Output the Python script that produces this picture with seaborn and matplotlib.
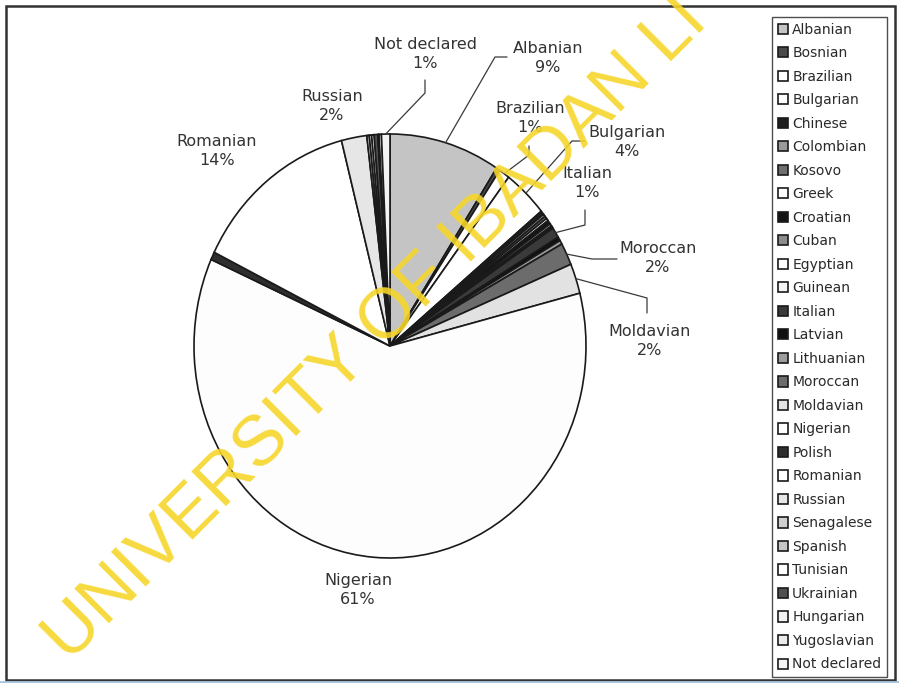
import matplotlib
matplotlib.use("Agg")
import matplotlib.pyplot as plt
import matplotlib.patches as mpatches
import seaborn as sns
import numpy as np

# Nationality shares (percent)
nationalities = [
    "Albanian", "Bosnian", "Brazilian", "Bulgarian", "Chinese", "Colombian",
    "Kosovo", "Greek", "Croatian", "Cuban", "Egyptian", "Guinean", "Italian",
    "Latvian", "Lithuanian", "Moroccan", "Moldavian", "Nigerian", "Polish",
    "Romanian", "Russian", "Senagalese", "Spanish", "Tunisian", "Ukrainian",
    "Hungarian", "Yugoslavian", "Not declared",
]
shares = [
    9.2, 0.3, 0.9, 3.7, 0.3, 0.2,
    0.2, 0.2, 0.3, 0.2, 0.1, 0.1, 0.8,
    0.3, 0.3, 1.7, 2.3, 61.0, 0.6,
    13.8, 2.1, 0.2, 0.2, 0.2, 0.3,
    0.1, 0.2, 0.7,
]
greys = [
    "#c4c4c4", "#4a4a4a", "#ffffff", "#ffffff", "#1e1e1e", "#9a9a9a",
    "#6e6e6e", "#ffffff", "#151515", "#8c8c8c", "#ffffff", "#f4f4f4", "#3a3a3a",
    "#101010", "#9c9c9c", "#6c6c6c", "#e2e2e2", "#fdfdfd", "#2e2e2e",
    "#ffffff", "#e6e6e6", "#cfcfcf", "#c6c6c6", "#ffffff", "#505050",
    "#f2f2f2", "#ebebeb", "#f4f4f4",
]

# which slices get a label, and where (pixel position of label centre)
label_pos = {
    "Not declared": (425, 54), "Albanian": (548, 58), "Brazilian": (530, 118),
    "Bulgarian": (627, 142), "Italian": (587, 183), "Moroccan": (658, 258),
    "Moldavian": (650, 341), "Russian": (332, 106), "Romanian": (217, 151),
    "Nigerian": (358, 590),
}
# leader lines: elbow and end point (pixels)
leaders = {
    "Not declared": [(425, 93), (425, 80)],
    "Albanian": [(495, 57), (507, 57)],
    "Brazilian": [(529, 155), (529, 146)],
    "Bulgarian": [(572, 141), (585, 141)],
    "Italian": [(585, 225), (585, 210)],
    "Moroccan": [(592, 259), (617, 259)],
    "Moldavian": [(647, 298), (647, 313)],
}

sns.set_theme(style="white")
plt.rcParams["font.family"] = ["DejaVu Sans"]

W, H = 899, 683
CX, CY, RX, RY = 390, 346, 196, 212

fig = plt.figure(figsize=(W / 100, H / 100), dpi=100)
ax = fig.add_axes([(CX - 1.25 * RX) / W, (H - CY - 1.25 * RY) / H,
                   2.5 * RX / W, 2.5 * RY / H])

wedges, _ = ax.pie(
    shares, colors=greys, startangle=90, counterclock=False,
    wedgeprops=dict(edgecolor="#1a1a1a", linewidth=1.2),
)
ax.set_aspect("auto")
ax.set_xlim(-1.25, 1.25)
ax.set_ylim(-1.25, 1.25)


def to_data(p):
    return (p[0] - CX) / RX, (CY - p[1]) / RY


total = sum(shares)
for name, pos in label_pos.items():
    i = nationalities.index(name)
    pct = round(shares[i] / total * 100)
    x, y = to_data(pos)
    ax.text(x, y, f"{name}\n{pct}%", ha="center", va="center",
            fontsize=11.5, color="#333333", linespacing=1.3)

for name, pts in leaders.items():
    w = wedges[nationalities.index(name)]
    mid = np.deg2rad((w.theta1 + w.theta2) / 2)
    xs = [np.cos(mid)] + [to_data(p)[0] for p in pts]
    ys = [np.sin(mid)] + [to_data(p)[1] for p in pts]
    ax.plot(xs, ys, color="#3a3a3a", lw=0.9, clip_on=False)

leg = fig.legend(
    wedges, nationalities, loc="upper left",
    bbox_to_anchor=(772 / W, 1 - 17 / H), borderaxespad=0,
    frameon=True, fancybox=False, edgecolor="#222222",
    fontsize=10, handlelength=0.75, handleheight=0.75,
    handletextpad=0.3, labelspacing=0.685, borderpad=0.4,
)
leg.get_frame().set_linewidth(1.0)
for t in leg.get_texts():
    t.set_color("#2a2a2a")

# outer frame of the scanned chart
fig.add_artist(mpatches.Rectangle((6 / W, 3 / H), 889 / W, 674 / H,
                                  transform=fig.transFigure, fill=False,
                                  edgecolor="#333333", lw=1.8))
fig.add_artist(plt.Line2D([0, 1], [1.5 / H, 1.5 / H], transform=fig.transFigure,
                          color="#a9c4dc", lw=2))

# library watermark (only the part visible in the scan)
fig.text(70 / W, 1 - 664 / H, "UNIVERSITY OF IBADAN LI", rotation=45,
         rotation_mode="anchor", ha="left", va="baseline",
         fontsize=51, family="Liberation Sans", color="#f6d62a",
         alpha=0.9, zorder=10)

fig.savefig("out.png", dpi=100, facecolor="white")
plt.close(fig)
